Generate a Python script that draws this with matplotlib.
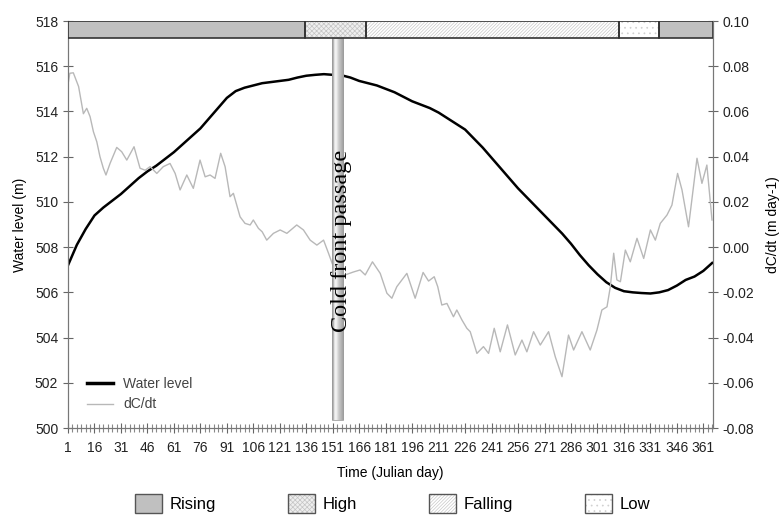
import numpy as np
import matplotlib
matplotlib.use("Agg")
import matplotlib.pyplot as plt
from matplotlib.patches import Patch, Rectangle
from matplotlib.legend_handler import HandlerTuple
from matplotlib.lines import Line2D

plt.rcParams['font.family'] = ['Liberation Sans', 'DejaVu Sans']
plt.rcParams['hatch.linewidth'] = 0.5

# water level (m)
wl_day = [1, 6, 11, 16, 21, 26, 31, 36, 41, 46, 51, 56, 61, 66, 71, 76, 81, 86, 91, 96,
          101, 106, 111, 116, 121, 126, 131, 136, 141, 146, 151, 156, 161, 166, 171, 176,
          181, 186, 191, 196, 201, 206, 211, 216, 221, 226, 231, 236, 241, 246, 251, 256,
          261, 266, 271, 276, 281, 286, 291, 296, 301, 306, 311, 316, 321, 326, 331, 336,
          341, 346, 351, 356, 361, 366]
wl_val = [507.2, 508.1, 508.8, 509.4, 509.75, 510.05, 510.35, 510.7, 511.05, 511.35,
          511.6, 511.9, 512.2, 512.55, 512.9, 513.25, 513.7, 514.15, 514.6, 514.9,
          515.05, 515.15, 515.25, 515.3, 515.35, 515.4, 515.5, 515.58, 515.62, 515.65,
          515.62, 515.6, 515.5, 515.35, 515.25, 515.15, 515.0, 514.85, 514.65, 514.45,
          514.3, 514.15, 513.95, 513.7, 513.45, 513.2, 512.8, 512.4, 511.95, 511.5,
          511.05, 510.6, 510.2, 509.8, 509.4, 509.0, 508.6, 508.15, 507.65, 507.2,
          506.8, 506.45, 506.2, 506.05, 506.0, 505.97, 505.95, 506.0, 506.1, 506.3,
          506.55, 506.7, 506.95, 507.3]

# dC/dt (m day-1)
dc_day = [1, 2, 4, 7, 9.7, 11.6, 13.5, 15.4, 17.3, 19.1, 21, 22.5, 24.8, 28.6, 31.4, 34.3,
          38.4, 41.8, 44.7, 47.5, 51.3, 55, 58.8, 61.7, 64.5, 68.3, 72, 75.8, 78.7, 81.5,
          84.3, 87.5, 90, 92.8, 94.7, 98.5, 101.3, 104.2, 106, 108.9, 111, 113.6, 117.4,
          121.2, 125, 130.6, 134.4, 138.2, 142, 145.8, 148.6, 151.4, 155.2, 158, 162.7,
          166.5, 169.4, 173.5, 177.9, 181.7, 184.5, 187.3, 193, 197.7, 202.2, 205.3, 208.5,
          210.5, 212.8, 215.7, 219.4, 221.3, 224.2, 227, 228.9, 232.7, 236.4, 239.3, 242.5,
          245.9, 250, 254.4, 258.2, 261, 264.8, 268.6, 273.3, 277.1, 280.9, 284.6, 287.5,
          292.2, 296.9, 300.7, 303.5, 306.4, 308.3, 310.2, 312, 314, 316.8, 319.6, 323.4,
          327.2, 331, 333.8, 336.6, 340.4, 343.2, 346.4, 348.9, 352.6, 357.4, 360.2, 363,
          365.9]
dc_val = [0.072, 0.0769, 0.0771, 0.071, 0.059, 0.0614, 0.0577, 0.051, 0.0466, 0.040,
          0.0349, 0.0319, 0.037, 0.0441, 0.0422, 0.0385, 0.0444, 0.0349, 0.034, 0.0356,
          0.0326, 0.0356, 0.037, 0.0326, 0.0253, 0.0319, 0.026, 0.0385, 0.0311, 0.0319,
          0.0304, 0.0415, 0.0356, 0.0223, 0.0238, 0.0134, 0.0105, 0.0098, 0.012, 0.0083,
          0.0068, 0.0031, 0.0061, 0.0076, 0.0061, 0.0098, 0.0076, 0.0031, 0.0009, 0.0031,
          -0.0027, -0.0087, -0.0116, -0.0123, -0.011, -0.0101, -0.0123, -0.0065, -0.0116,
          -0.0204, -0.0226, -0.0175, -0.0116, -0.0226, -0.0112, -0.015, -0.0131, -0.0175,
          -0.0256, -0.0249, -0.0308, -0.0278, -0.0322, -0.0359, -0.0374, -0.047, -0.044,
          -0.047, -0.0359, -0.0463, -0.0344, -0.0477, -0.0411, -0.0463, -0.0374, -0.0433,
          -0.0374, -0.0485, -0.0573, -0.0389, -0.0455, -0.0374, -0.0455, -0.0367, -0.0278,
          -0.0264, -0.0175, -0.0027, -0.0145, -0.0153, -0.0013, -0.0065, 0.0039, -0.0050,
          0.0076, 0.0031, 0.0105, 0.0142, 0.0186, 0.0326, 0.0253, 0.009, 0.0393, 0.0282,
          0.0363, 0.012]

# hydrological phases along the top band
phase_names = ['Rising', 'High', 'Falling', 'Low', 'Rising']
phase_start = [1, 135, 170, 313, 336]
phase_end = [135, 170, 313, 336, 366.5]

front_day = (150.5, 157.0)
front_label = 'Cold front passage'

x_ticks = list(range(1, 362, 15))

styles = {
    'Rising': dict(fc='#c0c0c0', hatch=None, hc='#c0c0c0'),
    'High': dict(fc='#efefef', hatch='xxxxxxx', hc='#c4c4c4'),
    'Falling': dict(fc='#ffffff', hatch='//////////', hc='#c8c8c8'),
    'Low': dict(fc='#ffffff', hatch='...', hc='#d0d0d0'),
}

fig = plt.figure(figsize=(7.81, 5.19), dpi=100)
ax = fig.add_axes([0.0871, 0.1753, 0.8259, 0.7842])
ax2 = ax.twinx()

ax.plot(wl_day, wl_val, color='black', lw=1.8, zorder=3)
ax2.plot(dc_day, dc_val, color='#b8b8b8', lw=1.0, zorder=2)

ax.set_xlim(1, 366.5)
ax.set_ylim(500, 518)
ax2.set_ylim(-0.08, 0.10)

# top band
band_lo, band_hi = 0.0925, 0.10
for name, s, e in zip(phase_names, phase_start, phase_end):
    st = styles[name]
    ax2.add_patch(Rectangle((s, band_lo), e - s, band_hi - band_lo, facecolor=st['fc'],
                            edgecolor=st['hc'], hatch=st['hatch'], lw=0, zorder=6))
    ax2.add_patch(Rectangle((s, band_lo), e - s, band_hi - band_lo, facecolor='none',
                            edgecolor='#333333', lw=1.2, zorder=7))

# cold front bar
grad = np.array([[0.55, 0.72, 0.9, 0.96, 0.92, 0.84, 0.78, 0.74, 0.7, 0.66, 0.58]])
ax2.imshow(grad, cmap='gray', vmin=0, vmax=1, aspect='auto',
           extent=(front_day[0], front_day[1], -0.0765, band_lo), zorder=5)
ax2.add_patch(Rectangle((front_day[0], -0.0765), front_day[1] - front_day[0],
                        band_lo + 0.0765, facecolor='none', edgecolor='#a0a0a0',
                        lw=0.6, zorder=5))
ax2.text(sum(front_day) / 2 + 2.2, 0.0027, front_label, rotation=90, ha='center',
         va='center', family=['Liberation Serif', 'DejaVu Serif'], fontsize=17.5,
         color='black', zorder=8)
ax2.set_xlim(1, 366.5)
ax2.set_ylim(-0.08, 0.10)

# ticks and spines
ax.set_xticks(x_ticks)
ax.set_xticks(np.arange(1, 367, 2.5), minor=True)
ax.set_yticks(np.arange(500, 519, 2))
ax2.set_yticks(np.round(np.arange(-0.08, 0.101, 0.02), 2))
ax2.set_yticklabels([f'{v:.2f}' for v in np.arange(-0.08, 0.101, 0.02)])
for a in (ax, ax2):
    a.tick_params(direction='inout', length=7, width=0.8, color='#666666',
                  labelsize=10, labelcolor='#222222')
    a.tick_params(which='minor', direction='inout', length=6, width=0.8, color='#888888')
    for side in ('left', 'right', 'bottom'):
        a.spines[side].set_color('#777777')
    a.spines['top'].set_visible(False)
ax.tick_params(axis='x', pad=6)

ax.set_xlabel('Time (Julian day)', fontsize=10, labelpad=8)
ax.set_ylabel('Water level (m)', fontsize=10, labelpad=6)
ax2.set_ylabel('dC/dt (m day-1)', fontsize=10, labelpad=8)

# line legend
handles = [Line2D([], [], color='black', lw=2.5), Line2D([], [], color='#b8b8b8', lw=1.0)]
ax2.legend(handles, ['Water level', 'dC/dt'], loc='lower left', bbox_to_anchor=(0.01, 0.01),
           frameon=False, fontsize=10, handlelength=1.9, handletextpad=0.7,
           labelspacing=0.45, labelcolor='#444444')

# phase legend
ph_handles = []
ph_labels = []
for name in ['Rising', 'High', 'Falling', 'Low']:
    st = styles[name]
    ph_handles.append((Patch(facecolor=st['fc'], edgecolor=st['hc'], hatch=st['hatch'], lw=0),
                       Patch(facecolor='none', edgecolor='#555555', lw=1.0)))
    ph_labels.append(name)
fig.legend(ph_handles, ph_labels, loc='center', bbox_to_anchor=(0.503, 0.03), ncol=4,
           frameon=False, fontsize=12, handlelength=1.6, handleheight=1.3,
           handletextpad=0.5, columnspacing=4.3,
           handler_map={tuple: HandlerTuple(ndivide=1)})

fig.savefig('out.png', dpi=100)
